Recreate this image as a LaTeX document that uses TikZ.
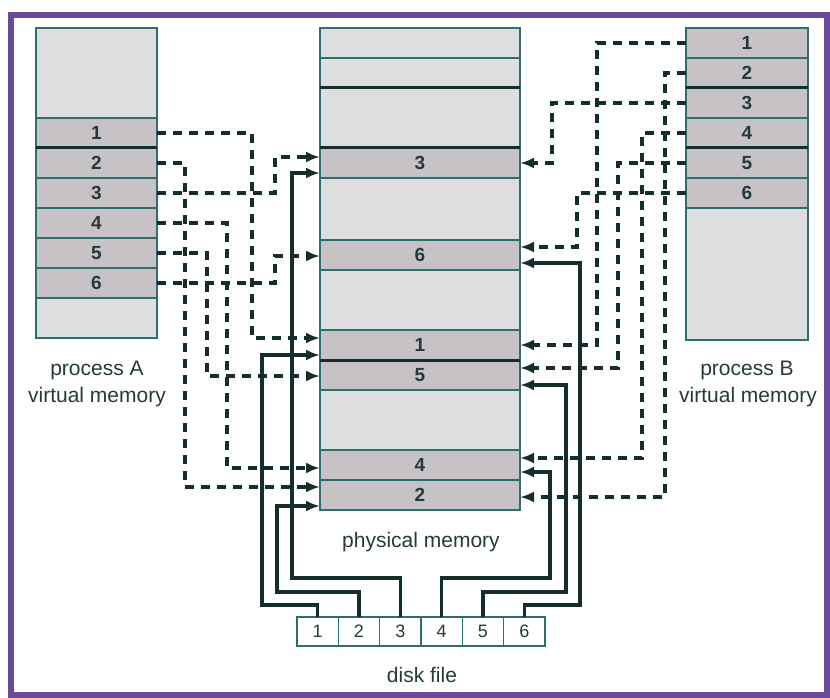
\documentclass[tikz,border=0pt]{standalone}
\usepackage{fontspec}
\setmainfont{Liberation Sans}
\usetikzlibrary{arrows.meta}
\definecolor{framec}{HTML}{6A4A9A}
\definecolor{boxc}{HTML}{2D6E6E}
\definecolor{lightc}{HTML}{DEDEDE}
\definecolor{pagec}{HTML}{C6C2C6}
\definecolor{linec}{HTML}{142E2E}
\definecolor{textc}{HTML}{253A3A}
\begin{document}
\begin{tikzpicture}[x=1pt,y=-1pt,
  emptybox/.style={draw=boxc, fill=lightc, line width=1.6pt, anchor=north west, inner sep=0pt, outer sep=0pt},
  pagebox/.style={draw=boxc, fill=pagec, line width=1.6pt, anchor=north west, inner sep=0pt, outer sep=0pt,
     text=textc, font=\fontsize{19}{19}\selectfont\bfseries},
  diskbox/.style={draw=boxc, fill=white, line width=1.6pt, anchor=north west, inner sep=0pt, outer sep=0pt,
     minimum width=41.33pt, minimum height=29pt, text=textc, font=\fontsize{18}{18}\selectfont},
  sep/.style={draw=linec, line width=3pt},
  lbl/.style={text=textc, font=\fontsize{21}{21}\selectfont, inner sep=0pt},
  dashc/.style={draw=linec, line width=3.4pt, dash pattern=on 9pt off 7pt, -{Latex[length=14pt,width=11pt]}},
  solidc/.style={draw=linec, line width=3.2pt, -{Latex[length=14pt,width=11pt]}},
]
\useasboundingbox (0,0) rectangle (830,698);
\draw[framec, line width=5.5pt] (11,15) rectangle (827,695);

% process A
\node[emptybox, minimum width=121pt, minimum height=90pt] (A0) at (36,28) {};
\foreach \i/\y in {1/118,2/148,3/178,4/208,5/238,6/268}
  \node[pagebox, minimum width=121pt, minimum height=30pt] (A\i) at (36,\y) {\i};
\node[emptybox, minimum width=121pt, minimum height=40pt] (A7) at (36,298) {};
\draw[sep] (A1.south west) -- (A1.south east);
\node[lbl] (labA1) at (97,370) {process A};
\node[lbl] (labA2) at (97,397) {virtual memory};

% physical memory
\node[emptybox, minimum width=200pt, minimum height=30pt] (P0) at (320,28) {};
\node[emptybox, minimum width=200pt, minimum height=30pt] (P1) at (320,58) {};
\node[emptybox, minimum width=200pt, minimum height=60pt] (P2) at (320,88) {};
\node[pagebox, minimum width=200pt, minimum height=30pt] (F3) at (320,148) {3};
\node[emptybox, minimum width=200pt, minimum height=62pt] (P3) at (320,178) {};
\node[pagebox, minimum width=200pt, minimum height=30pt] (F6) at (320,240) {6};
\node[emptybox, minimum width=200pt, minimum height=60pt] (P4) at (320,270) {};
\node[pagebox, minimum width=200pt, minimum height=30pt] (F1) at (320,330) {1};
\node[pagebox, minimum width=200pt, minimum height=30pt] (F5) at (320,360) {5};
\node[emptybox, minimum width=200pt, minimum height=60pt] (P5) at (320,390) {};
\node[pagebox, minimum width=200pt, minimum height=30pt] (F4) at (320,450) {4};
\node[pagebox, minimum width=200pt, minimum height=30pt] (F2) at (320,480) {2};
\draw[sep] (P2.north west) -- (P2.north east);
\draw[sep] (P2.south west) -- (P2.south east);
\draw[sep] (F1.south west) -- (F1.south east);
\node[lbl] (labP) at (421,542) {physical memory};

% process B
\foreach \i/\y in {1/28,2/58,3/88,4/118,5/148,6/178}
  \node[pagebox, minimum width=122pt, minimum height=30pt] (B\i) at (686,\y) {\i};
\node[emptybox, minimum width=122pt, minimum height=132pt] (B7) at (686,208) {};
\draw[sep] (B2.south west) -- (B2.south east);
\draw[sep] (B4.south west) -- (B4.south east);
\node[lbl] (labB1) at (747,370) {process B};
\node[lbl] (labB2) at (748,397) {virtual memory};

% disk file
\foreach \i in {1,...,6}
  \node[diskbox] (D\i) at ({297+41.33*(\i-1)},617) {\i};
\node[lbl] (labD) at (422,675) {disk file};

% process A mappings
\draw[dashc] (A1.east) -| (252,338) -- ([yshift=7pt]F1.west);
\draw[dashc] (A2.east) -| (185,487) -- ([yshift=8pt]F2.west);
\draw[dashc] (A3.east) -| (275,157) -- ([yshift=6pt]F3.west);
\draw[dashc] (A4.east) -| (227,468) -- ([yshift=-3pt]F4.west);
\draw[dashc] (A5.east) -| (207,376) -- ([yshift=-1pt]F5.west);
\draw[dashc] (A6.east) -| (275,256) -- ([yshift=-1pt]F6.west);

% process B mappings
\draw[dashc] (B1.west) -| (597,345) -- (F1.east);
\draw[dashc] (B2.west) -| (665,497) -- ([yshift=-2pt]F2.east);
\draw[dashc] (B3.west) -| (552,163) -- (F3.east);
\draw[dashc] (B4.west) -| (642,458) -- ([yshift=7pt]F4.east);
\draw[dashc] (B5.west) -| (618,368) -- ([yshift=7pt]F5.east);
\draw[dashc] (B6.west) -| (577,247) -- ([yshift=8pt]F6.east);

% disk file mappings
\draw[solidc] (D1.north) |- (262,605) |- ([yshift=-10pt]F1.west);
\draw[solidc] (D2.north) |- (277,592) |- ([yshift=-11pt]F2.west);
\draw[solidc] (D3.north) |- (292,578) |- ([yshift=-10pt]F3.west);
\draw[solidc] (D4.north) |- (550,578) |- ([yshift=-7pt]F4.east);
\draw[solidc] (D5.north) |- (566,592) |- ([yshift=-10pt]F5.east);
\draw[solidc] (D6.north) |- (580,605) |- ([yshift=-8pt]F6.east);
\end{tikzpicture}
\end{document}
